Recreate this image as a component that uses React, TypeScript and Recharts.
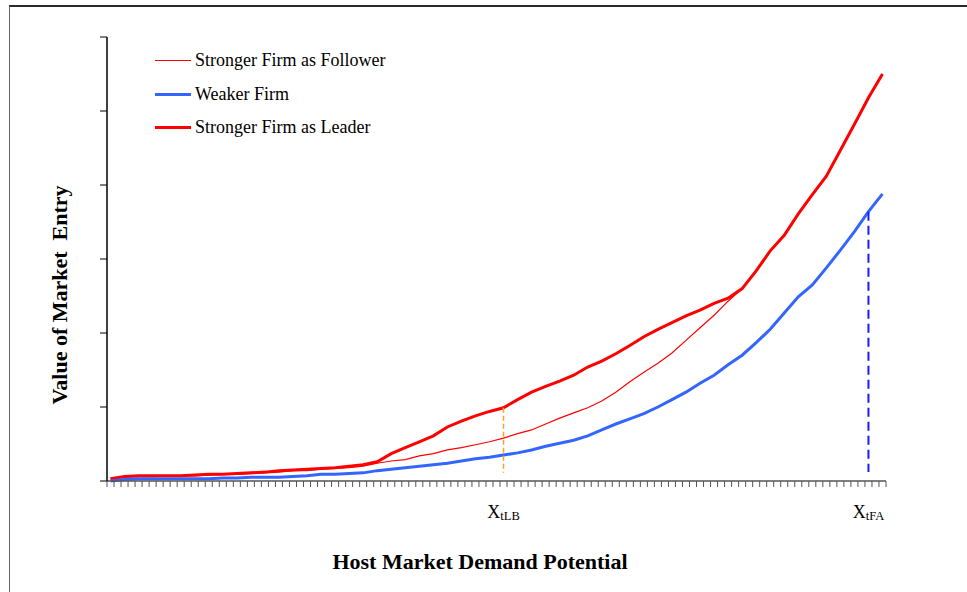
import { LineChart, Line, XAxis, YAxis, ReferenceLine } from "recharts";

// demand potential categories (every second category of the 111 on the axis)
const demand = [
	0, 2, 4, 6, 8, 10, 12, 14, 16, 18, 20, 22, 24, 26, 28, 30, 32, 34, 36, 38,
	40, 42, 44, 46, 48, 50, 52, 54, 56, 58, 60, 62, 64, 66, 68, 70, 72, 74, 76,
	78, 80, 82, 84, 86, 88, 90, 92, 94, 96, 98, 100, 102, 104, 106, 108, 110,
];

const leader = [
	0.03, 0.06, 0.07, 0.07, 0.07, 0.07, 0.08, 0.09, 0.09, 0.1, 0.11, 0.12, 0.14,
	0.15, 0.16, 0.17, 0.18, 0.2, 0.22, 0.26, 0.37, 0.45, 0.53, 0.61, 0.73, 0.81,
	0.88, 0.94, 0.99, 1.1, 1.2, 1.28, 1.35, 1.43, 1.54, 1.62, 1.72, 1.83, 1.95,
	2.05, 2.14, 2.23, 2.31, 2.4, 2.47, 2.6, 2.84, 3.11, 3.32, 3.61, 3.87, 4.12,
	4.47, 4.82, 5.18, 5.5,
];

const follower = [
	0.03, 0.05, 0.06, 0.06, 0.07, 0.07, 0.07, 0.08, 0.09, 0.09, 0.1, 0.11, 0.12,
	0.14, 0.14, 0.16, 0.17, 0.18, 0.2, 0.24, 0.27, 0.29, 0.34, 0.37, 0.42, 0.45,
	0.49, 0.53, 0.58, 0.64, 0.69, 0.77, 0.85, 0.92, 0.99, 1.08, 1.2, 1.34, 1.47,
	1.59, 1.73, 1.9, 2.07, 2.24, 2.43, 2.6, 2.84, 3.11, 3.32, 3.61, 3.87, 4.12,
	4.47, 4.82, 5.18, 5.5,
];

const weaker = [
	0, 0.02, 0.03, 0.03, 0.03, 0.03, 0.03, 0.03, 0.04, 0.04, 0.05, 0.05, 0.05,
	0.06, 0.07, 0.09, 0.09, 0.1, 0.11, 0.14, 0.16, 0.18, 0.2, 0.22, 0.24, 0.27,
	0.3, 0.32, 0.35, 0.38, 0.42, 0.47, 0.51, 0.55, 0.61, 0.69, 0.77, 0.84, 0.91,
	1.0, 1.1, 1.2, 1.32, 1.43, 1.57, 1.7, 1.87, 2.05, 2.27, 2.49, 2.65, 2.88,
	3.12, 3.37, 3.64, 3.88,
];

const yTicks = [0, 1, 2, 3, 4, 5, 6];
const markAt = [56, 108];
const markSub = ["tLB", "tFA"];

const legendItems = [
	{ name: "Stronger Firm as Follower", color: "#ff0000", width: 1.2 },
	{ name: "Weaker Firm", color: "#3366ff", width: 3 },
	{ name: "Stronger Firm as Leader", color: "#ff0000", width: 3 },
];

const data = demand.map((x, k) => ({
	x,
	leader: leader[k],
	follower: follower[k],
	weaker: weaker[k],
}));

// tick marks sit on the boundaries between the 111 categories
const boundaryTicks = Array.from({ length: 112 }, (_, k) => k - 0.5);

const serif = '"Liberation Serif", "Times New Roman", serif';

function MarkTick(props: any) {
	const { x, y, payload } = props;
	const sub = markSub[markAt.indexOf(payload.value)];
	return (
		<text x={x} y={y + 19} textAnchor="middle" fontFamily={serif} fill="#000">
			<tspan fontSize={18}>X</tspan>
			<tspan fontSize={12.5} dy={2}>
				{sub}
			</tspan>
		</text>
	);
}

export default function App() {
	const lbIdx = demand.indexOf(markAt[0]);
	const faIdx = demand.indexOf(markAt[1]);
	return (
		<div
			style={{
				position: "absolute",
				left: 0,
				top: 0,
				width: 967,
				height: 592,
				overflow: "hidden",
				background: "#fff",
				fontFamily: serif,
			}}
		>
			<div
				style={{
					position: "absolute",
					left: 9,
					top: 5,
					width: 1200,
					height: 900,
					borderTop: "2px solid #2a2a2a",
					borderLeft: "1.5px solid #666",
				}}
			/>
			<div style={{ position: "absolute", left: 0, top: 0 }}>
				<LineChart
					width={967}
					height={592}
					data={data}
					margin={{ top: 37, right: 81, bottom: 61, left: 60 }}
				>
					<XAxis
						dataKey="x"
						type="number"
						domain={[-0.5, 110.5]}
						ticks={boundaryTicks}
						interval={0}
						height={10}
						tickSize={6}
						tickFormatter={() => ""}
						axisLine={{ stroke: "#555", strokeWidth: 1.5 }}
						tickLine={{ stroke: "#555", strokeWidth: 1 }}
					/>
					<XAxis
						xAxisId="marks"
						dataKey="x"
						type="number"
						domain={[-0.5, 110.5]}
						ticks={markAt}
						interval={0}
						height={40}
						axisLine={false}
						tickLine={false}
						tick={<MarkTick />}
					/>
					<YAxis
						type="number"
						domain={[0, 6]}
						ticks={yTicks}
						width={47}
						tickSize={7}
						tickFormatter={() => ""}
						axisLine={{ stroke: "#000", strokeWidth: 1.5 }}
						tickLine={{ stroke: "#000", strokeWidth: 1 }}
					/>
					<Line
						type="linear"
						dataKey="leader"
						stroke="#ff0000"
						strokeWidth={3}
						dot={false}
						isAnimationActive={false}
					/>
					<Line
						type="linear"
						dataKey="follower"
						stroke="#ff0000"
						strokeWidth={1.2}
						dot={false}
						isAnimationActive={false}
					/>
					<Line
						type="linear"
						dataKey="weaker"
						stroke="#3366ff"
						strokeWidth={3}
						dot={false}
						isAnimationActive={false}
					/>
					<ReferenceLine
						segment={[
							{ x: markAt[0], y: leader[lbIdx] },
							{ x: markAt[0], y: 0.11 },
						]}
						stroke="#f5a033"
						strokeWidth={1.5}
						strokeDasharray="5 3"
					/>
					<ReferenceLine
						segment={[
							{ x: markAt[1], y: weaker[faIdx] },
							{ x: markAt[1], y: 0.12 },
						]}
						stroke="#1a1aff"
						strokeWidth={2}
						strokeDasharray="9 5"
					/>
				</LineChart>
			</div>
			<div style={{ position: "absolute", left: 155, top: 44 }}>
				{legendItems.map((item) => (
					<div
						key={item.name}
						style={{
							display: "flex",
							alignItems: "center",
							height: 33.5,
							fontSize: 18,
							color: "#000",
							whiteSpace: "nowrap",
						}}
					>
						<div
							style={{
								width: 36,
								height: item.width,
								background: item.color,
								marginRight: 4,
							}}
						/>
						<span>{item.name}</span>
					</div>
				))}
			</div>
			<div
				style={{
					position: "absolute",
					left: 60,
					top: 295,
					transform: "translate(-50%, -50%) rotate(-90deg)",
					fontWeight: "bold",
					fontSize: 22,
					whiteSpace: "pre",
					color: "#000",
				}}
			>
				Value of Market  Entry
			</div>
			<div
				style={{
					position: "absolute",
					left: 480,
					top: 562,
					transform: "translate(-50%, -50%)",
					fontWeight: "bold",
					fontSize: 22,
					whiteSpace: "nowrap",
					color: "#000",
				}}
			>
				Host Market Demand Potential
			</div>
		</div>
	);
}
